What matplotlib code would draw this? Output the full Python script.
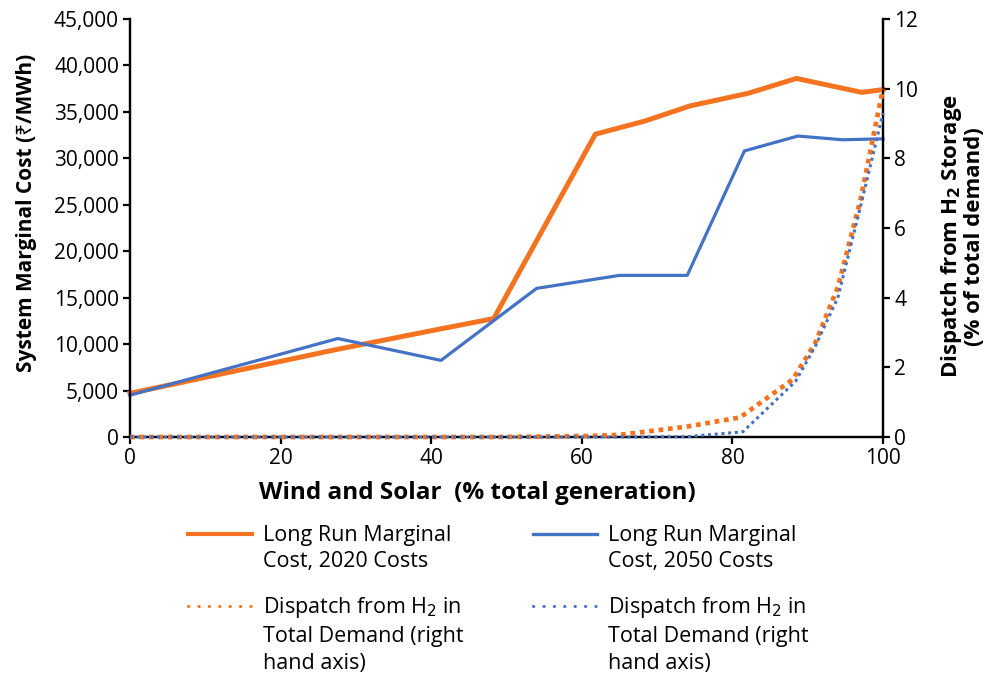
import matplotlib
matplotlib.use('Agg')
import matplotlib.pyplot as plt
import numpy as np
from matplotlib.legend_handler import HandlerLine2D

plt.rcParams['font.family'] = ['Open Sans', 'Noto Sans', 'DejaVu Sans']

# Long run marginal cost (left axis, Rs/MWh)
x_2020 = [0, 27, 41, 48.3, 61.8, 68.3, 74.4, 82.1, 88.5, 97.2, 100]
lrmc_2020 = [4700, 9350, 11600, 12750, 32600, 34000, 35650, 37000, 38600, 37100, 37400]
x_2050 = [0, 27.6, 41.3, 54.0, 65.0, 74.0, 81.6, 88.7, 94.6, 100]
lrmc_2050 = [4500, 10600, 8250, 16000, 17400, 17400, 30800, 32400, 32000, 32100]

# Dispatch from H2 storage (right axis, % of total demand)
xd_2020 = [0, 27, 41, 48, 54, 61, 65, 74, 81, 88, 91, 94, 97, 100]
h2_2020 = [0, 0, 0, 0, 0.01, 0.03, 0.06, 0.3, 0.56, 1.65, 2.7, 4.3, 6.8, 10.0]
xd_2050 = [0, 27, 41, 48, 54, 61, 65, 74, 81.4, 88.4, 91, 94, 97, 100]
h2_2050 = [0, 0, 0, 0, 0, 0, 0, 0.01, 0.15, 1.6, 2.6, 4.0, 6.6, 9.3]

orange = '#F47321'
blue = '#4472C4'


# legend handle lined up with the first line of a multi-line label
class TopHandler(HandlerLine2D):
    def __init__(self, shift, lw=None, ls=None, **kw):
        super().__init__(**kw)
        self.shift = shift
        self.lw = lw
        self.ls = ls

    def create_artists(self, legend, orig_handle, xdescent, ydescent,
                       width, height, fontsize, trans):
        arts = super().create_artists(legend, orig_handle, xdescent, ydescent,
                                      width, height, fontsize, trans)
        for a in arts:
            a.set_ydata(np.asarray(a.get_ydata()) + self.shift)
            if self.lw:
                a.set_linewidth(self.lw)
            if self.ls:
                a.set_linestyle(self.ls)
                a.set_dash_capstyle('round')
        return arts


fig = plt.figure(figsize=(9.9, 6.79), dpi=100)
ax = fig.add_axes([130/990, 1-437/679, (883-130)/990, (437-19)/679])
ax2 = ax.twinx()

l1, = ax.plot(x_2020, lrmc_2020, color=orange, lw=3.6, solid_joinstyle='round',
              clip_on=False, zorder=3, label='Long Run Marginal\nCost, 2020 Costs')
l2, = ax.plot(x_2050, lrmc_2050, color=blue, lw=2.3, clip_on=False, zorder=3,
              label='Long Run Marginal\nCost, 2050 Costs')
l3, = ax2.plot(xd_2020, h2_2020, color=orange, lw=3.4, linestyle=(0, (1, 1)),
               clip_on=False, zorder=3,
               label='Dispatch from H$_2$ in\nTotal Demand (right\nhand axis)')
l4, = ax2.plot(xd_2050, h2_2050, color=blue, lw=2.2, linestyle=(0, (1, 1.2)),
               clip_on=False, zorder=3,
               label='Dispatch from H$_2$ in\nTotal Demand (right\nhand axis)')

ax.set_xlim(0, 100)
ax.set_ylim(0, 45000)
ax2.set_ylim(0, 12)
ax.set_xticks(range(0, 101, 20))
ax.set_yticks(range(0, 45001, 5000))
ax.set_yticklabels([f'{v:,}' for v in range(0, 45001, 5000)])
ax2.set_yticks(range(0, 13, 2))

for a in (ax, ax2):
    a.spines['top'].set_visible(False)
    for s in ('left', 'right', 'bottom'):
        a.spines[s].set_linewidth(1.6)
    a.tick_params(labelsize=15, width=1.6, length=5, direction='out', pad=3)

ax.set_xlabel('Wind and Solar  (% total generation)', fontsize=17.5, fontweight='bold')
ax.xaxis.set_label_coords((477-130)/753, -0.105)
ax.set_ylabel('System Marginal Cost (₹/MWh)', fontsize=15, fontweight='bold')
ax.yaxis.set_label_coords(-0.124, 0.535)
ax2.set_ylabel('Dispatch from H$_\\mathbf{2}$ Storage\n(% of total demand)', fontsize=16,
               fontweight='bold', rotation=90, linespacing=1.0)
ax2.yaxis.set_label_coords(1.074, 0.48)

step = 20.2  # one text line, in points
leg = fig.legend(handles=[l1, l3, l2, l4], ncol=2, frameon=False, fontsize=15.5,
                 loc='upper left', bbox_to_anchor=(177/990, 1-514/679), borderpad=0,
                 handlelength=3.0, handletextpad=0.5, columnspacing=3.2,
                 labelspacing=1.07,
                 handler_map={l1: TopHandler(step*0.55, lw=3.0),
                              l2: TopHandler(step*0.55, lw=2.4),
                              l3: TopHandler(step*1.05, lw=2.2, ls=(0, (0.1, 3.3))),
                              l4: TopHandler(step*1.05, lw=2.2, ls=(0, (0.1, 3.3)))})
for t in leg.get_texts():
    t.set_linespacing(1.35)

fig.savefig('out.png', dpi=100)
